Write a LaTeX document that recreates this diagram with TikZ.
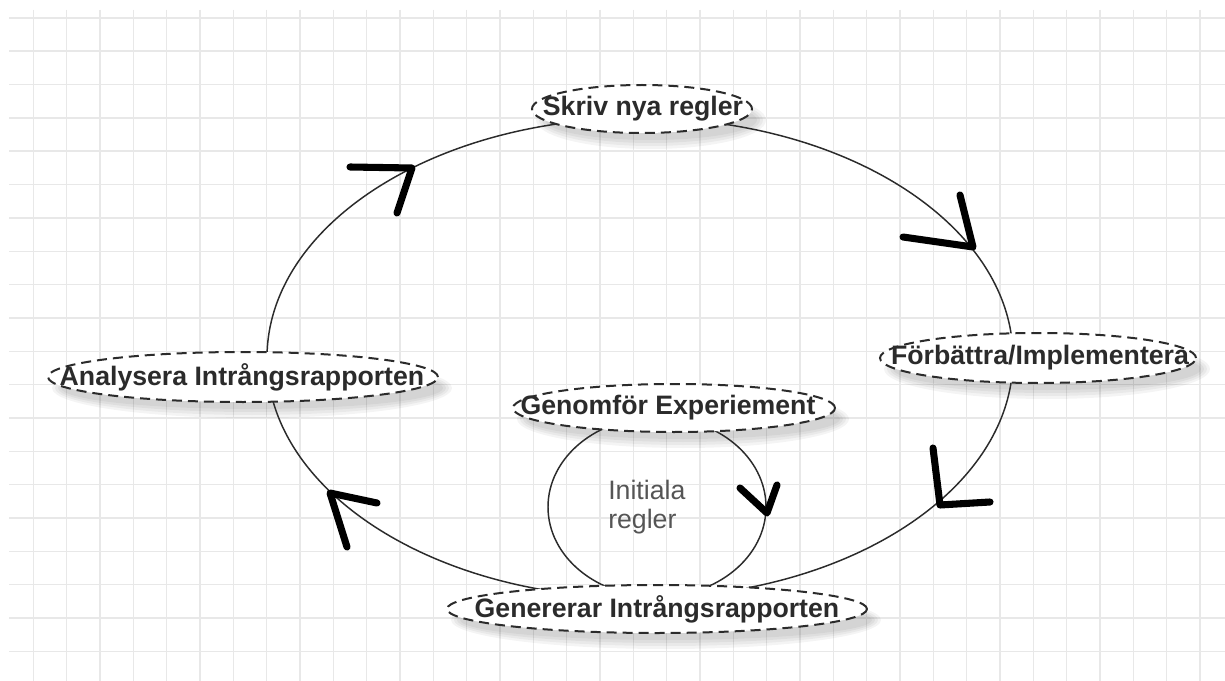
\documentclass[tikz,border=0pt]{standalone}
\usepackage{fontspec}
\setmainfont{Liberation Sans}
\usetikzlibrary{calc}
\pgfdeclarelayer{grid}
\pgfdeclarelayer{shadow}
\pgfdeclarelayer{lines}
\pgfdeclarelayer{bubble}
\pgfsetlayers{grid,shadow,lines,bubble,main}
\definecolor{gridgray}{HTML}{E8E8E8}
\definecolor{ink}{HTML}{2B2B2B}
\definecolor{notegray}{HTML}{555555}
\begin{document}
\begin{tikzpicture}[x=0.75pt,y=0.75pt,
  gridline/.style={draw=gridgray, line width=1.1pt},
  lab/.style={font=\fontsize{20}{24}\selectfont\bfseries, text=ink, inner sep=0pt},
  note/.style={font=\fontsize{20}{22}\selectfont, text=notegray, inner sep=0pt, align=left},
  bubbleline/.style={draw=ink, fill=white, line width=1.5pt, dash pattern=on 7.5pt off 4.5pt},
  link/.style={draw=ink, line width=1.1pt},
  tip/.style={draw=black, line width=5.3pt, line cap=round, line join=round},
  shade/.style={fill=black, opacity=0.045}]

% canvas
\useasboundingbox (0,0) rectangle (1225,-681);

% labels
\node[lab] (skriv)   at (643,-109)  {Skriv nya regler};
\node[lab] (forb)    at (1040,-358) {Förbättra/Implementera};
\node[lab] (analys)  at (242,-377)  {Analysera Intrångsrapporten};
\node[lab] (genomf)  at (668,-408)  {Genomför Experiement};
\node[lab] (generer) at (657,-609)  {Genererar Intrångsrapporten};
\node[note, anchor=west] (init) at (608,-507) {Initiala\\regler};

% centres of the two loops
\coordinate (c) at (640,-358);
\coordinate (s) at (657,-507);

% paper and background grid
\begin{pgfonlayer}{grid}
  \fill[white] (0,0) rectangle (1225,-681);
  \foreach \i in {1,...,36}
    \draw[gridline] (\i*33.333,-10) -- (\i*33.333,-681);
  \foreach \j in {0,...,19}
    \draw[gridline] (9,-17.8-\j*33.35) -- (1225,-17.8-\j*33.35);
\end{pgfonlayer}

% soft drop shadows of the bubbles
\begin{pgfonlayer}{shadow}
  \foreach \n/\dx/\rx/\ry in {skriv/-1/110/24, forb/-2/158/25, analys/1/195/25, genomf/6/161/24, generer/0/210/24}
    \foreach \g in {0,3,6,9}
      \fill[shade] ($(\n)+(\dx+9,-11)$) ellipse[x radius=\rx+\g-4, y radius=\ry+\g-4];
\end{pgfonlayer}

% dashed bubbles round the labels
\begin{pgfonlayer}{bubble}
  \path[bubbleline] ($(skriv)+(-1,0)$)   ellipse[x radius=110, y radius=24];
  \path[bubbleline] ($(forb)+(-2,0)$)    ellipse[x radius=158, y radius=25];
  \path[bubbleline] ($(analys)+(1,0)$)   ellipse[x radius=195, y radius=25];
  \path[bubbleline] ($(genomf)+(6,0)$)   ellipse[x radius=161, y radius=24];
  \path[bubbleline] ($(generer)+(0,0)$)  ellipse[x radius=210, y radius=24];
\end{pgfonlayer}

% the outer cycle and the inner loop
\begin{pgfonlayer}{lines}
  \draw[link] ($(c)+(90:373 and 240)$)  arc[start angle=90,  end angle=0,    x radius=373, y radius=240];
  \draw[link] ($(c)+(0:373 and 240)$)   arc[start angle=0,   end angle=-90,  x radius=373, y radius=240];
  \draw[link] ($(c)+(-90:373 and 240)$) arc[start angle=-90, end angle=-180, x radius=373, y radius=240];
  \draw[link] ($(c)+(180:373 and 240)$) arc[start angle=180, end angle=90,   x radius=373, y radius=240];
  \draw[link] ($(s)+(90:109 and 90)$)   arc[start angle=90,  end angle=-90,  x radius=109, y radius=90];
  \draw[link] ($(s)+(270:109 and 90)$)  arc[start angle=270, end angle=90,   x radius=109, y radius=90];
\end{pgfonlayer}

% hand-drawn arrow heads
\draw[tip] (350,-167) -- (412,-168) -- (397,-213);
\draw[tip] (960,-195) -- (973,-247) -- (903,-237);
\draw[tip] (933,-448) -- (940,-505) -- (990,-502);
\draw[tip] (377,-503) -- (330,-493) -- (347,-547);
\draw[tip] (740,-488) -- (767,-513) -- (777,-485);
\end{tikzpicture}
\end{document}
